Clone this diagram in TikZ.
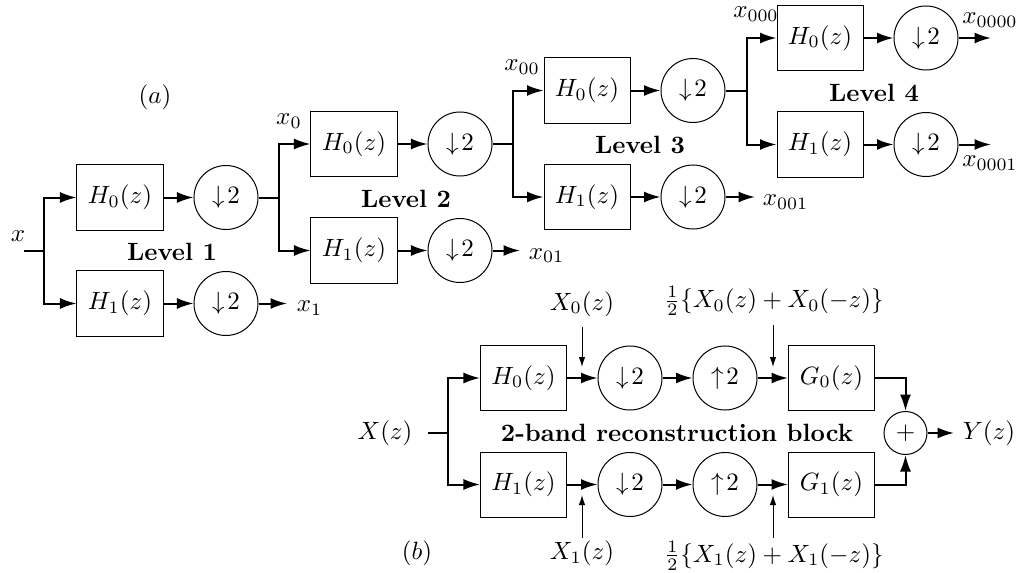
\documentclass[tikz,border=0pt]{standalone}
\usetikzlibrary{arrows.meta}
\begin{document}
\begin{tikzpicture}[x=0.4pt,y=-0.4pt,
  blk/.style={draw,line width=0.4pt,minimum width=34.4pt,minimum height=26pt,inner sep=0pt},
  smp/.style={draw,line width=0.4pt,circle,minimum size=25.6pt,inner sep=0pt},
  sumc/.style={draw,line width=0.4pt,circle,minimum size=17.2pt,inner sep=0pt},
  wire/.style={line width=0.8pt},
  arr/.style={wire,-{Latex[length=6.6pt,width=4.4pt]}},
  tarr/.style={line width=0.4pt,-{Latex[length=4pt,width=2.6pt]}},
  lvl/.style={font=\bfseries},
]
\useasboundingbox (0,0) rectangle (1016,573);

% ---------- (a) ----------
\node (alab) at (155,97) {$(a)$};

% Level 1
\node[blk] (h0a) at (120,197.5) {$H_0(z)$};
\node[smp] (d0a) at (226,197.5) {$\downarrow\!2$};
\node[blk] (h1a) at (120,303.5) {$H_1(z)$};
\node[smp] (d1a) at (226,303.5) {$\downarrow\!2$};
\node[lvl] (lv1) at (172,252) {Level 1};
\node (xin) at (18,236) {$x$};
\coordinate (xst) at (24,250.5);
\coordinate (sp1) at (44,250.5);
\draw[wire] (xst) -- (sp1);
\draw[arr] (sp1) |- (h0a.west);
\draw[arr] (sp1) |- (h1a.west);
\draw[arr] (h0a) -- (d0a);
\draw[arr] (h1a) -- (d1a);
\coordinate (o1a) at (287,303.5);
\draw[arr] (d1a) -- (o1a);
\node[anchor=west] (x1) at (288,308) {$x_1$};

% Level 2
\node[blk] (h0b) at (354,144) {$H_0(z)$};
\node[smp] (d0b) at (460,144) {$\downarrow\!2$};
\node[blk] (h1b) at (354,250.5) {$H_1(z)$};
\node[smp] (d1b) at (460,250.5) {$\downarrow\!2$};
\node[lvl] (lv2) at (406,198.5) {Level 2};
\node (x0) at (289,121) {$x_0$};
\coordinate (sp2) at (279,197.5);
\draw[wire] (d0a) -- (sp2);
\draw[arr] (sp2) |- (h0b.west);
\draw[arr] (sp2) |- (h1b.west);
\draw[arr] (h0b) -- (d0b);
\draw[arr] (h1b) -- (d1b);
\coordinate (o1b) at (520,250.5);
\draw[arr] (d1b) -- (o1b);
\node[anchor=west] (x01) at (520,255.5) {$x_{01}$};

% Level 3
\node[blk] (h0c) at (587,90.5) {$H_0(z)$};
\node[smp] (d0c) at (693,90.5) {$\downarrow\!2$};
\node[blk] (h1c) at (587,197) {$H_1(z)$};
\node[smp] (d1c) at (693,197) {$\downarrow\!2$};
\node[lvl] (lv3) at (640,145) {Level 3};
\node (x00) at (522,67) {$x_{00}$};
\coordinate (sp3) at (513,144);
\draw[wire] (d0b) -- (sp3);
\draw[arr] (sp3) |- (h0c.west);
\draw[arr] (sp3) |- (h1c.west);
\draw[arr] (h0c) -- (d0c);
\draw[arr] (h1c) -- (d1c);
\coordinate (o1c) at (755,197);
\draw[arr] (d1c) -- (o1c);
\node[anchor=west] (x001) at (754,202) {$x_{001}$};

% Level 4
\node[blk] (h0d) at (820,38) {$H_0(z)$};
\node[smp] (d0d) at (926,38) {$\downarrow\!2$};
\node[blk] (h1d) at (820,144.5) {$H_1(z)$};
\node[smp] (d1d) at (926,144.5) {$\downarrow\!2$};
\node[lvl] (lv4) at (874,92.5) {Level 4};
\node (x000) at (756,14) {$x_{000}$};
\coordinate (sp4) at (747,90.5);
\draw[wire] (d0c) -- (sp4);
\draw[arr] (sp4) |- (h0d.west);
\draw[arr] (sp4) |- (h1d.west);
\draw[arr] (h0d) -- (d0d);
\draw[arr] (h1d) -- (d1d);
\coordinate (o0d) at (991,38);
\coordinate (o1d) at (991,144.5);
\draw[arr] (d0d) -- (o0d);
\draw[arr] (d1d) -- (o1d);
\node (x0000) at (990,20) {$x_{0000}$};
\node (x0001) at (990,163) {$x_{0001}$};

% ---------- (b) ----------
\node (blab) at (417,553) {$(b)$};
\node (Xz) at (385,433) {$X(z)$};
\coordinate (xbs) at (428,433);
\coordinate (spb) at (448,433);
\node[blk] (bh0) at (523.5,378) {$H_0(z)$};
\node[blk] (bh1) at (523.5,484.5) {$H_1(z)$};
\node[smp] (bd0) at (630,378) {$\downarrow\!2$};
\node[smp] (bd1) at (630,484.5) {$\downarrow\!2$};
\node[smp] (bu0) at (725,378) {$\uparrow\!2$};
\node[smp] (bu1) at (725,484.5) {$\uparrow\!2$};
\node[blk] (bg0) at (831.5,378) {$G_0(z)$};
\node[blk] (bg1) at (831.5,484.5) {$G_1(z)$};
\node[sumc] (sum) at (905.5,433) {$+$};
\node (Yz) at (989,433) {$Y(z)$};
\node[lvl] (blk2) at (677,433) {2-band reconstruction block};

\draw[wire] (xbs) -- (spb);
\draw[arr] (spb) |- (bh0.west);
\draw[arr] (spb) |- (bh1.west);
\draw[arr] (bh0) -- (bd0);
\draw[arr] (bh1) -- (bd1);
\draw[arr] (bd0) -- (bu0);
\draw[arr] (bd1) -- (bu1);
\draw[arr] (bu0) -- (bg0);
\draw[arr] (bu1) -- (bg1);
\draw[arr] (bg0.east) -| (sum.north);
\draw[arr] (bg1.east) -| (sum.south);
\draw[arr] (sum) -- (Yz);

\node (X0l) at (582,304) {$X_0(z)$};
\node (X1l) at (582,553) {$X_1(z)$};
\node (H0l) at (774,301) {$\frac{1}{2}\{X_0(z)+X_0(-z)\}$};
\node (H1l) at (774,556) {$\frac{1}{2}\{X_1(z)+X_1(-z)\}$};
\coordinate (t0) at (582,367);
\coordinate (t1) at (582,495);
\coordinate (t2) at (773,367);
\coordinate (t3) at (773,495);
\draw[tarr] (582,327) -- (t0);
\draw[tarr] (582,538) -- (t1);
\draw[tarr] (773,325) -- (t2);
\draw[tarr] (773,538) -- (t3);
\end{tikzpicture}
\end{document}
